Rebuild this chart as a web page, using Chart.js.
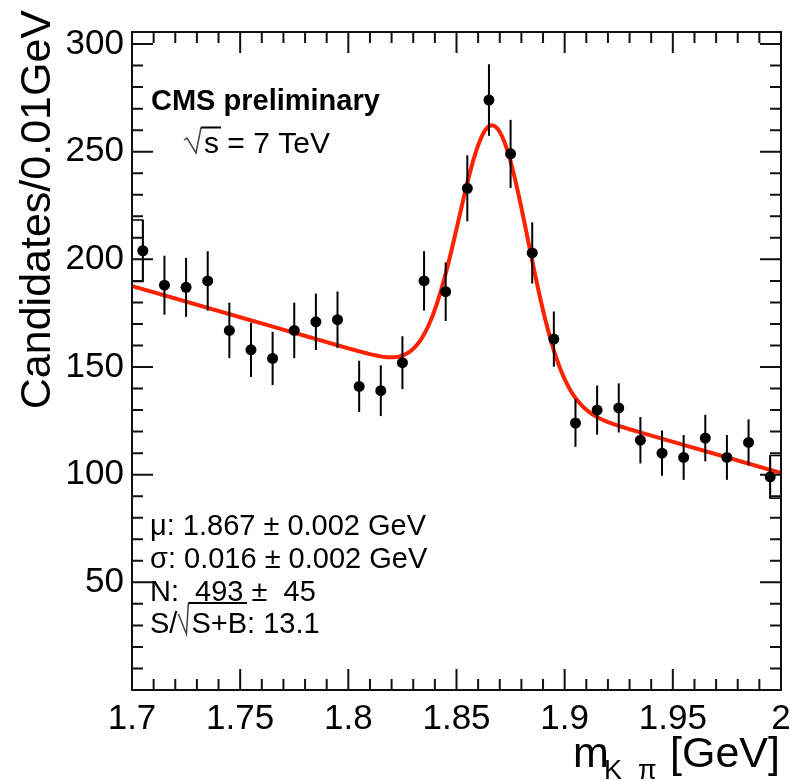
<!DOCTYPE html>
<html>
<head>
<meta charset="utf-8">
<script src="https://cdn.jsdelivr.net/npm/chart.js@4.4.1/dist/chart.umd.min.js"></script>
<style>
html, body { margin: 0; padding: 0; background: #fff; }
#box { width: 790px; height: 781px; }
</style>
</head>
<body>
<div id="box"><canvas id="mass"></canvas></div>
<script>
// D0 -> K pi candidates, 10 MeV bins
var binCenters = [1.705, 1.715, 1.725, 1.735, 1.745, 1.755, 1.765, 1.775, 1.785, 1.795,
                  1.805, 1.815, 1.825, 1.835, 1.845, 1.855, 1.865, 1.875, 1.885, 1.895,
                  1.905, 1.915, 1.925, 1.935, 1.945, 1.955, 1.965, 1.975, 1.985, 1.995];
var candidates = [204, 188, 187, 190, 167, 158, 154, 167, 171, 172,
                  141, 139, 152, 190, 185, 233, 274, 249, 203, 163,
                  124, 130, 131, 116, 110, 108, 117, 108, 115, 99];
var candErrors = [14.3, 13.7, 13.7, 13.8, 12.9, 12.6, 12.4, 12.9, 13.1, 13.1,
                  11.9, 11.8, 12.3, 13.8, 13.6, 15.3, 16.6, 15.8, 14.2, 12.8,
                  11.1, 11.4, 11.4, 10.8, 10.5, 10.4, 10.8, 10.4, 10.7, 9.9];
var xTicks = [1.7, 1.75, 1.8, 1.85, 1.9, 1.95, 2];
var yTicks = [50, 100, 150, 200, 250, 300];

// fit: gaussian signal + linear background
var fitMu = 1.867;
var fitSigma = 0.016;
var fitN = 493;
var binWidth = 0.01;
var bkgLo = 187.6;   // background at 1.7
var bkgHi = 100.8;   // background at 2.0
var xMin = 1.7, xMax = 2.0;

var fitCurve = [];
for (var i = 0; i <= 300; i++) {
    var x = xMin + i * 0.001;
    var bkg = bkgLo + (bkgHi - bkgLo) * (x - xMin) / (xMax - xMin);
    var z = (x - fitMu) / fitSigma;
    var sig = fitN * binWidth / (fitSigma * Math.sqrt(2 * Math.PI)) * Math.exp(-0.5 * z * z);
    fitCurve.push({x: x, y: bkg + sig});
}

var points = binCenters.map(function (x, i) { return {x: x, y: candidates[i]}; });

var font = "'Liberation Sans', Arial, Helvetica, sans-serif";

var rootStyle = {
    id: 'rootStyle',
    afterDatasetsDraw: function (chart) {
        var c = chart.ctx, xs = chart.scales.x, ys = chart.scales.y;
        c.save();
        c.strokeStyle = '#000';
        c.lineWidth = 2;
        for (var i = 0; i < binCenters.length; i++) {
            var px = xs.getPixelForValue(binCenters[i]);
            c.beginPath();
            c.moveTo(px, ys.getPixelForValue(candidates[i] - candErrors[i]));
            c.lineTo(px, ys.getPixelForValue(candidates[i] + candErrors[i]));
            c.stroke();
        }
        // half-bin error boxes on the first and last bins
        c.lineWidth = 1.5;
        var ends = [[0, xMin], [binCenters.length - 1, xMax]];
        ends.forEach(function (e) {
            var k = e[0];
            var x0 = xs.getPixelForValue(e[1]);
            var x1 = xs.getPixelForValue(binCenters[k]);
            var y0 = ys.getPixelForValue(candidates[k] + candErrors[k]);
            var y1 = ys.getPixelForValue(candidates[k] - candErrors[k]);
            c.strokeRect(Math.min(x0, x1), y0, Math.abs(x1 - x0), y1 - y0);
        });
        c.restore();
    },
    afterDraw: function (chart) {
        var c = chart.ctx, a = chart.chartArea, xs = chart.scales.x, ys = chart.scales.y;
        c.save();
        // frame
        c.strokeStyle = '#111';
        c.lineWidth = 2;
        c.strokeRect(a.left, a.top, a.right - a.left, a.bottom - a.top);
        // inward ticks on all four sides
        c.beginPath();
        for (var k = 0; k <= 30; k++) {
            var v = k * 10;
            if (v > ys.max) break;
            var py = ys.getPixelForValue(v);
            var len = (k % 5 === 0) ? 21 : 11;
            c.moveTo(a.left, py); c.lineTo(a.left + len, py);
            c.moveTo(a.right, py); c.lineTo(a.right - len, py);
        }
        for (var j = 0; j <= 30; j++) {
            var px = xs.getPixelForValue(xMin + j * 0.01);
            var l2 = (j % 5 === 0) ? 21 : 11;
            c.moveTo(px, a.bottom); c.lineTo(px, a.bottom - l2);
            c.moveTo(px, a.top); c.lineTo(px, a.top + l2);
        }
        c.stroke();

        c.fillStyle = '#000';
        c.textAlign = 'left';
        c.textBaseline = 'alphabetic';

        // axis titles
        c.save();
        c.font = '43px ' + font;
        c.translate(50, 10);
        c.rotate(-Math.PI / 2);
        c.textAlign = 'right';
        c.fillText('Candidates/0.01GeV', 0, 0);
        c.restore();

        c.font = '43px ' + font;
        c.textAlign = 'right';
        c.fillText('[GeV]', 780, 767);
        c.textAlign = 'left';
        c.fillText('m', 573, 767);
        c.font = '27px ' + font;
        c.fillText('K', 604, 779);
        c.fillText('\u03c0', 638, 779);

        // experiment label
        c.font = 'bold 29px ' + font;
        c.fillText('CMS preliminary', 151, 110);
        c.lineWidth = 1.5;
        c.strokeStyle = '#444';
        c.beginPath();
        c.moveTo(184, 140); c.lineTo(187, 138); c.lineTo(196, 153); c.lineTo(201, 127.5);
        c.stroke();
        c.strokeStyle = '#000';
        c.lineWidth = 2;
        c.beginPath();
        c.moveTo(201, 127.5); c.lineTo(221, 127.5);
        c.stroke();
        c.font = '30px ' + font;
        c.fillText('s = 7 TeV', 204, 153);

        // fit results
        c.font = '29px ' + font;
        c.fillText('\u03bc: 1.867 \u00b1 0.002 GeV', 150, 535);
        c.fillText('\u03c3: 0.016 \u00b1 0.002 GeV', 150, 568);
        c.fillText('N:  493 \u00b1  45', 150, 601);
        var s1 = 'S/';
        var ws1 = c.measureText(s1).width;
        c.fillText(s1, 150, 633);
        var rx = 150 + ws1;
        c.lineWidth = 1.5;
        c.strokeStyle = '#444';
        c.beginPath();
        c.moveTo(rx + 1, 614); c.lineTo(rx + 9, 634); c.lineTo(rx + 11, 603);
        c.stroke();
        var wsb = c.measureText('S+B').width;
        c.strokeStyle = '#000';
        c.lineWidth = 1.8;
        c.beginPath();
        c.moveTo(rx + 11, 603); c.lineTo(rx + 14 + wsb, 603);
        c.stroke();
        c.fillText('S+B: 13.1', rx + 14, 633);
        c.restore();
    }
};

var ctx = document.getElementById('mass').getContext('2d');

var massChart = new Chart(ctx, {
    type: 'scatter',
    data: {
        datasets: [{
            label: 'data',
            data: points,
            pointRadius: 5.5,
            pointBackgroundColor: '#000',
            pointBorderColor: '#000',
            pointBorderWidth: 0
        }, {
            type: 'line',
            label: 'fit',
            data: fitCurve,
            borderColor: '#ff2200',
            borderWidth: 4,
            pointRadius: 0,
            fill: false,
            tension: 0
        }]
    },
    options: {
        responsive: true,
        maintainAspectRatio: false,
        animation: false,
        layout: {
            padding: { top: 32, right: 9, left: 0, bottom: 0 }
        },
        plugins: {
            legend: { display: false },
            tooltip: { enabled: false }
        },
        scales: {
            x: {
                type: 'linear',
                min: xMin,
                max: xMax,
                grid: { display: false, drawTicks: false },
                border: { display: false },
                afterBuildTicks: function (s) { s.ticks = xTicks.map(function (v) { return {value: v}; }); },
                afterFit: function (s) {
                    s.height = 91;
                    s.paddingLeft = 0;
                    s.paddingRight = 0;
                },
                ticks: {
                    padding: 8,
                    color: '#000',
                    maxRotation: 0,
                    autoSkip: false,
                    font: { family: font, size: 35 },
                    callback: function (v) { return String(v); }
                }
            },
            y: {
                min: 0,
                max: 305.6,
                grid: { display: false, drawTicks: false },
                border: { display: false },
                afterBuildTicks: function (s) { s.ticks = yTicks.map(function (v) { return {value: v}; }); },
                afterFit: function (s) {
                    s.width = 132;
                    s.paddingTop = 0;
                    s.paddingBottom = 0;
                },
                ticks: {
                    padding: 8,
                    color: '#000',
                    font: { family: font, size: 35 },
                    callback: function (v) { return String(v); }
                }
            }
        }
    },
    plugins: [rootStyle]
});
</script>
</body>
</html>
